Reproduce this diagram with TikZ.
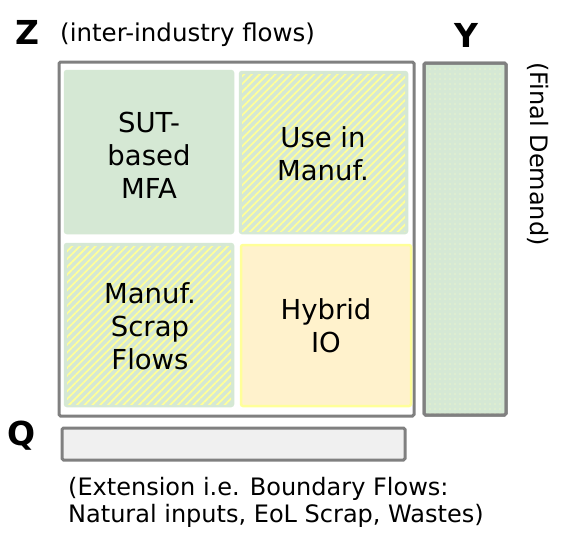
\documentclass[tikz,border=0pt]{standalone}
\usepackage{fontspec}
\setmainfont{DejaVu Sans}
\usetikzlibrary{patterns.meta}
\definecolor{frame}{HTML}{808080}
\definecolor{lgreen}{HTML}{D5E8D4}
\definecolor{lyellow}{HTML}{FFFF99}
\definecolor{cream}{HTML}{FFF2CC}
\definecolor{lgray}{HTML}{F0F0F0}
\tikzset{
  cell/.style={rounded corners=2pt, line width=2.5pt},
  outer/.style={draw=frame, line width=3pt, rounded corners=1.5pt},
  bigtxt/.style={font=\fontsize{27.5}{33}\selectfont, align=center},
  smalltxt/.style={font=\fontsize{24}{27}\selectfont},
  lbl/.style={font=\fontsize{33}{36}\selectfont\bfseries},
  hatch/.style={pattern={Lines[angle=45,distance=5.5pt,line width=1.8pt]}, pattern color=lyellow}
}
\begin{document}
\begin{tikzpicture}[x=1pt,y=-1pt]
\useasboundingbox (0,0) rectangle (567,544);
% outer Z frame
\draw[outer, fill=white] (59,62) rectangle (414,416);
% SUT-based MFA
\filldraw[cell, fill=lgreen, draw=lgreen] (65,71) rectangle (233,233);
\node[bigtxt] (sut) at (149,155) {SUT-\\based\\MFA};
% Use in Manuf.
\filldraw[cell, fill=lgreen, draw=lgreen] (240,72) rectangle (407,233);
\fill[hatch] (242,74) rectangle (405,231);
\node[bigtxt] (use) at (323,154) {Use in\\Manuf.};
% Manuf. Scrap Flows
\filldraw[cell, fill=lgreen, draw=lgreen] (65,244) rectangle (233,406);
\fill[hatch] (67,246) rectangle (231,404);
\node[bigtxt] (scrap) at (150,326) {Manuf.\\Scrap\\Flows};
% Hybrid IO
\filldraw[cell, fill=cream, draw=lyellow] (241,245) rectangle (411,406);
\node[bigtxt] (hyb) at (326,326) {Hybrid\\IO};
% Y
\filldraw[outer, fill=lgreen] (424,63) rectangle (506,415);
\fill[pattern={Dots[distance=5pt,radius=0.6pt]}, pattern color=lyellow!60!white] (426,65) rectangle (504,413);
\draw[outer] (424,63) rectangle (506,415);
% Q
\filldraw[outer, fill=lgray] (62,428) rectangle (405,460);
% labels
\node[lbl] (zl) at (27,32) {Z};
\node[lbl] (yl) at (466,35) {Y};
\node[lbl] (ql) at (22,436) {Q};
\node[font=\fontsize{24.5}{27}\selectfont, anchor=west, inner sep=0pt] (zt) at (60,35) {(inter-industry flows)};
\node[font=\fontsize{24}{27}\selectfont, rotate=-90] (yt) at (538,154) {(Final Demand)};
\node[smalltxt, anchor=north west, align=left, inner sep=0pt] (qt) at (68,477) {(Extension i.e. Boundary Flows:\\Natural inputs, EoL Scrap, Wastes)};
\end{tikzpicture}
\end{document}
